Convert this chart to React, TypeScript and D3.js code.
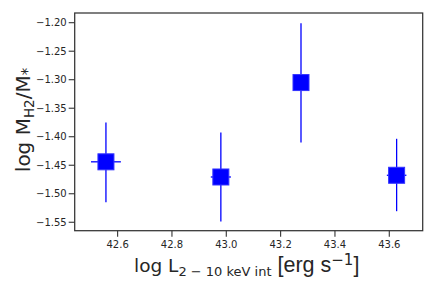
import React from 'react';
import * as d3 from 'd3';

// log L(2-10 keV, intrinsic) vs log M_H2/M_* with error bars
const logLx = [42.557, 42.98, 43.275, 43.627];
const logLxErr = [0.055, 0.037, 0.02, 0.036];
const logGas = [-1.444, -1.4706, -1.305, -1.4676];
const gasErrUp = [0.069, 0.078, 0.104, 0.064];
const gasErrLo = [0.071, 0.078, 0.105, 0.063];
const xTicks = [42.6, 42.8, 43.0, 43.2, 43.4, 43.6];
const yTicks = [-1.2, -1.25, -1.3, -1.35, -1.4, -1.45, -1.5, -1.55];

const W = 436;
const H = 291;
const margin = { top: 13, right: 13.3, bottom: 60.3, left: 74.7 };

const App = () => {
  const iw = W - margin.left - margin.right;
  const ih = H - margin.top - margin.bottom;
  const x = d3.scaleLinear().domain([42.442, 43.723]).range([0, iw]);
  const y = d3.scaleLinear().domain([-1.5648, -1.183]).range([ih, 0]);
  const axisCol = '#333';
  const minus = (v: number) => d3.format('.2f')(v).replace('-', '\u2212');
  const ms = 16;

  return (
    <svg width={W} height={H} style={{ position: 'absolute', left: 0, top: 0 }}
      fontFamily="'DejaVu Sans', sans-serif">
      <g transform={`translate(${margin.left},${margin.top})`}>
        {logLx.map((lx, i) => (
          <g key={i} stroke="#0000ff" strokeWidth={1.3}>
            <line x1={x(lx)} x2={x(lx)} y1={y(logGas[i] + gasErrUp[i])} y2={y(logGas[i] - gasErrLo[i])} />
            <line x1={x(lx - logLxErr[i])} x2={x(lx + logLxErr[i])} y1={y(logGas[i])} y2={y(logGas[i])} />
            <rect x={x(lx) - ms / 2} y={y(logGas[i]) - ms / 2} width={ms} height={ms}
              fill="#0000ff" stroke="#3333ff" strokeWidth={1} />
          </g>
        ))}
        <rect x={0} y={0} width={iw} height={ih} fill="none" stroke={axisCol} strokeWidth={1.25} />
        {yTicks.map(t => (
          <g key={t} transform={`translate(0,${y(t)})`}>
            <line x1={-6} x2={0} stroke={axisCol} strokeWidth={1.1} />
            <text x={-8} dy="0.35em" textAnchor="end" fontSize={10} fill="#262626">{minus(t)}</text>
          </g>
        ))}
        {xTicks.map(t => (
          <g key={t} transform={`translate(${x(t)},${ih})`}>
            <line y1={0} y2={6} stroke={axisCol} strokeWidth={1.1} />
            <text y={17.5} textAnchor="middle" fontSize={10} fill="#262626">{d3.format('.1f')(t)}</text>
          </g>
        ))}
      </g>
      <text x={134} y={272} fontSize={18.5} fill="#262626">
        log L<tspan fontSize={13} dy={4}>2 − 10 keV int</tspan>
        <tspan dy={-4} fontFamily="'Liberation Sans', Arial, sans-serif" fontSize={21.5}> [erg s</tspan>
        <tspan fontSize={15} dy={-7}>−1</tspan>
        <tspan dy={7} fontFamily="'Liberation Sans', Arial, sans-serif" fontSize={21.5}>]</tspan>
      </text>
      <text transform="translate(29.5,120) rotate(-90)" textAnchor="middle" fontSize={20} fill="#262626">
        log M<tspan fontSize={13.5} dy={4}>H2</tspan>
        <tspan dy={-4}>/M</tspan>
        <tspan fontSize={15} dy={3}>*</tspan>
      </text>
    </svg>
  );
};

export default App;
